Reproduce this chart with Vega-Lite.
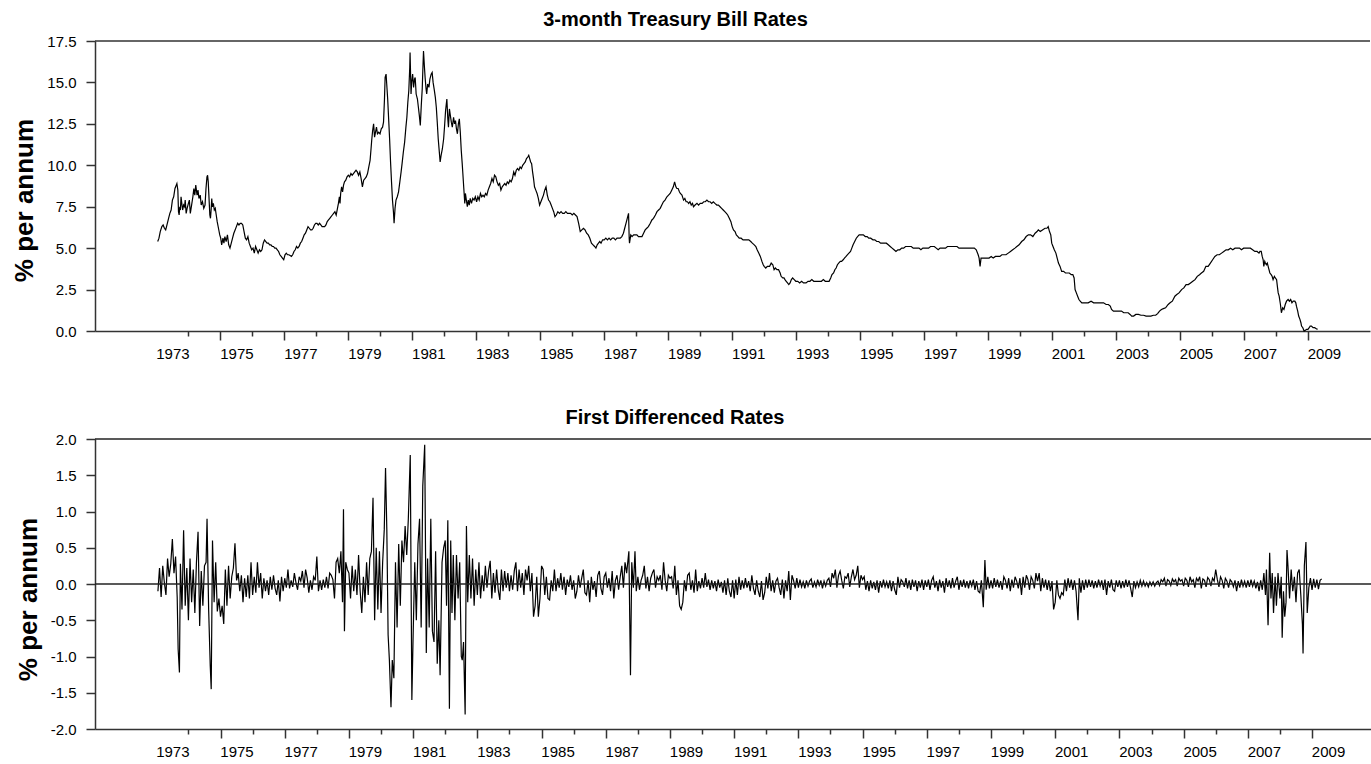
{
"$schema": "https://vega.github.io/schema/vega-lite/v6.json",
"background": "white",
"padding": {"left": 11, "top": 10, "right": 0, "bottom": 0},
"spacing": 47,
"align": "none",
"config": {
  "font": "Liberation Sans",
  "view": {"stroke": null},
  "locale": {"number": {"decimal": ".", "thousands": ",", "grouping": [3], "currency": ["$", ""], "minus": "-"}},
  "axis": {"grid": false, "domainColor": "#333", "domainWidth": 1.5, "tickColor": "#333", "tickWidth": 1.5, "labelFont": "Liberation Sans", "labelFontSize": 15, "labelColor": "black", "titleFont": "Liberation Sans", "titleColor": "black"}
},
"vconcat": [
{
  "width": 1275, "height": 290,
  "title": {"text": "3-month Treasury Bill Rates", "fontSize": 20, "fontWeight": "bold", "font": "Liberation Sans", "color": "black", "anchor": "middle", "frame": "group", "dx": -57, "offset": 4},
  "layer": [
    {
      "data": {"values": [
{"year":1973.04,"rate":5.4},{"year":1973.08,"rate":5.6},{"year":1973.12,"rate":6.0},{"year":1973.17,"rate":6.3},{"year":1973.21,"rate":6.4},{"year":1973.25,"rate":6.2},{"year":1973.29,"rate":6.1},{"year":1973.33,"rate":6.4},{"year":1973.38,"rate":6.8},{"year":1973.42,"rate":7.1},{"year":1973.46,"rate":7.3},{"year":1973.50,"rate":7.9},{"year":1973.54,"rate":8.1},{"year":1973.58,"rate":8.6},{"year":1973.62,"rate":8.8},{"year":1973.64,"rate":8.9},{"year":1973.67,"rate":8.5},{"year":1973.69,"rate":7.2},{"year":1973.71,"rate":7.0},{"year":1973.73,"rate":7.5},{"year":1973.75,"rate":7.3},{"year":1973.77,"rate":8.1},{"year":1973.80,"rate":7.6},{"year":1973.82,"rate":7.3},{"year":1973.85,"rate":7.6},{"year":1973.88,"rate":7.5},{"year":1973.90,"rate":7.9},{"year":1973.93,"rate":7.1},{"year":1973.96,"rate":7.4},
{"year":1974.00,"rate":7.7},{"year":1974.03,"rate":7.9},{"year":1974.06,"rate":7.1},{"year":1974.10,"rate":7.6},{"year":1974.14,"rate":8.1},{"year":1974.17,"rate":8.6},{"year":1974.20,"rate":8.2},{"year":1974.23,"rate":8.8},{"year":1974.27,"rate":8.2},{"year":1974.30,"rate":8.5},{"year":1974.33,"rate":8.0},{"year":1974.37,"rate":8.2},{"year":1974.40,"rate":7.6},{"year":1974.44,"rate":7.8},{"year":1974.48,"rate":7.4},{"year":1974.52,"rate":7.6},{"year":1974.55,"rate":8.6},{"year":1974.58,"rate":9.3},{"year":1974.60,"rate":9.4},{"year":1974.62,"rate":9.0},{"year":1974.64,"rate":8.2},{"year":1974.67,"rate":7.0},{"year":1974.69,"rate":6.8},{"year":1974.71,"rate":7.3},{"year":1974.73,"rate":8.0},{"year":1974.75,"rate":7.5},{"year":1974.78,"rate":7.7},{"year":1974.81,"rate":7.3},{"year":1974.84,"rate":7.4},{"year":1974.87,"rate":7.0},{"year":1974.90,"rate":6.6},{"year":1974.94,"rate":6.2},{"year":1974.98,"rate":5.8},
{"year":1975.01,"rate":5.6},{"year":1975.04,"rate":5.2},{"year":1975.08,"rate":5.6},{"year":1975.11,"rate":5.3},{"year":1975.14,"rate":5.7},{"year":1975.18,"rate":5.4},{"year":1975.22,"rate":5.8},{"year":1975.26,"rate":5.2},{"year":1975.30,"rate":5.0},{"year":1975.34,"rate":5.3},{"year":1975.38,"rate":5.6},{"year":1975.42,"rate":5.9},{"year":1975.46,"rate":6.1},{"year":1975.50,"rate":6.3},{"year":1975.54,"rate":6.5},{"year":1975.58,"rate":6.4},{"year":1975.62,"rate":6.5},{"year":1975.66,"rate":6.5},{"year":1975.70,"rate":6.4},{"year":1975.74,"rate":6.0},{"year":1975.78,"rate":5.6},{"year":1975.82,"rate":5.5},{"year":1975.86,"rate":5.7},{"year":1975.90,"rate":5.3},{"year":1975.94,"rate":5.1},{"year":1975.98,"rate":4.9},
{"year":1976.02,"rate":5.0},{"year":1976.06,"rate":4.7},{"year":1976.10,"rate":5.1},{"year":1976.14,"rate":4.9},{"year":1976.18,"rate":4.7},{"year":1976.22,"rate":4.9},{"year":1976.26,"rate":4.8},{"year":1976.30,"rate":4.9},{"year":1976.34,"rate":5.3},{"year":1976.38,"rate":5.5},{"year":1976.42,"rate":5.4},{"year":1976.46,"rate":5.3},{"year":1976.50,"rate":5.3},{"year":1976.54,"rate":5.2},{"year":1976.58,"rate":5.2},{"year":1976.62,"rate":5.1},{"year":1976.66,"rate":5.1},{"year":1976.70,"rate":5.0},{"year":1976.74,"rate":5.0},{"year":1976.78,"rate":4.9},{"year":1976.82,"rate":4.8},{"year":1976.86,"rate":4.6},{"year":1976.90,"rate":4.5},{"year":1976.94,"rate":4.4},{"year":1976.98,"rate":4.3},
{"year":1977.02,"rate":4.6},{"year":1977.06,"rate":4.7},{"year":1977.10,"rate":4.6},{"year":1977.14,"rate":4.6},{"year":1977.18,"rate":4.55},{"year":1977.22,"rate":4.5},{"year":1977.26,"rate":4.6},{"year":1977.30,"rate":4.8},{"year":1977.34,"rate":4.9},{"year":1977.38,"rate":5.1},{"year":1977.42,"rate":5.0},{"year":1977.46,"rate":5.1},{"year":1977.50,"rate":5.3},{"year":1977.54,"rate":5.4},{"year":1977.58,"rate":5.6},{"year":1977.62,"rate":5.8},{"year":1977.66,"rate":5.9},{"year":1977.70,"rate":6.1},{"year":1977.74,"rate":6.3},{"year":1977.78,"rate":6.2},{"year":1977.82,"rate":6.1},{"year":1977.86,"rate":6.1},{"year":1977.90,"rate":6.2},{"year":1977.94,"rate":6.4},{"year":1977.98,"rate":6.5},
{"year":1978.02,"rate":6.5},{"year":1978.06,"rate":6.4},{"year":1978.10,"rate":6.5},{"year":1978.14,"rate":6.4},{"year":1978.18,"rate":6.3},{"year":1978.22,"rate":6.3},{"year":1978.26,"rate":6.3},{"year":1978.30,"rate":6.4},{"year":1978.34,"rate":6.6},{"year":1978.38,"rate":6.7},{"year":1978.42,"rate":6.8},{"year":1978.46,"rate":6.9},{"year":1978.50,"rate":7.0},{"year":1978.54,"rate":7.1},{"year":1978.58,"rate":7.2},{"year":1978.62,"rate":7.0},{"year":1978.66,"rate":7.4},{"year":1978.69,"rate":7.7},{"year":1978.72,"rate":8.1},{"year":1978.74,"rate":7.7},{"year":1978.76,"rate":8.3},{"year":1978.79,"rate":8.7},{"year":1978.82,"rate":8.4},{"year":1978.85,"rate":8.8},{"year":1978.88,"rate":9.0},{"year":1978.92,"rate":9.1},{"year":1978.96,"rate":9.3},
{"year":1979.00,"rate":9.4},{"year":1979.04,"rate":9.3},{"year":1979.08,"rate":9.5},{"year":1979.12,"rate":9.4},{"year":1979.16,"rate":9.5},{"year":1979.20,"rate":9.6},{"year":1979.24,"rate":9.7},{"year":1979.28,"rate":9.6},{"year":1979.32,"rate":9.4},{"year":1979.36,"rate":9.6},{"year":1979.40,"rate":9.2},{"year":1979.44,"rate":8.7},{"year":1979.48,"rate":9.1},{"year":1979.52,"rate":9.2},{"year":1979.56,"rate":9.3},{"year":1979.60,"rate":9.5},{"year":1979.64,"rate":9.9},{"year":1979.68,"rate":10.3},{"year":1979.71,"rate":11.0},{"year":1979.73,"rate":11.5},{"year":1979.76,"rate":12.1},{"year":1979.79,"rate":12.5},{"year":1979.82,"rate":11.7},{"year":1979.85,"rate":12.0},{"year":1979.88,"rate":12.3},{"year":1979.91,"rate":11.9},{"year":1979.95,"rate":12.0},{"year":1979.99,"rate":11.9},
{"year":1980.03,"rate":12.2},{"year":1980.07,"rate":12.3},{"year":1980.10,"rate":12.6},{"year":1980.13,"rate":14.0},{"year":1980.15,"rate":15.3},{"year":1980.18,"rate":15.5},{"year":1980.20,"rate":14.9},{"year":1980.23,"rate":14.0},{"year":1980.26,"rate":12.8},{"year":1980.29,"rate":11.6},{"year":1980.32,"rate":10.2},{"year":1980.35,"rate":9.0},{"year":1980.38,"rate":7.9},{"year":1980.41,"rate":7.2},{"year":1980.43,"rate":6.5},{"year":1980.46,"rate":7.4},{"year":1980.49,"rate":7.9},{"year":1980.53,"rate":8.1},{"year":1980.57,"rate":8.4},{"year":1980.61,"rate":9.0},{"year":1980.65,"rate":9.6},{"year":1980.68,"rate":10.1},{"year":1980.72,"rate":10.8},{"year":1980.76,"rate":11.4},{"year":1980.80,"rate":12.3},{"year":1980.83,"rate":12.9},{"year":1980.86,"rate":13.8},{"year":1980.89,"rate":14.5},{"year":1980.92,"rate":15.9},{"year":1980.93,"rate":16.8},{"year":1980.96,"rate":14.3},{"year":1980.98,"rate":15.0},
{"year":1981.01,"rate":15.5},{"year":1981.04,"rate":14.7},{"year":1981.07,"rate":15.2},{"year":1981.09,"rate":15.3},{"year":1981.12,"rate":14.3},{"year":1981.16,"rate":14.0},{"year":1981.19,"rate":13.5},{"year":1981.22,"rate":13.0},{"year":1981.25,"rate":12.4},{"year":1981.28,"rate":13.6},{"year":1981.31,"rate":14.6},{"year":1981.33,"rate":15.8},{"year":1981.35,"rate":16.9},{"year":1981.38,"rate":15.9},{"year":1981.40,"rate":15.3},{"year":1981.43,"rate":14.6},{"year":1981.45,"rate":14.3},{"year":1981.48,"rate":14.9},{"year":1981.52,"rate":14.7},{"year":1981.55,"rate":15.2},{"year":1981.59,"rate":15.5},{"year":1981.62,"rate":15.6},{"year":1981.65,"rate":15.0},{"year":1981.69,"rate":14.5},{"year":1981.72,"rate":14.1},{"year":1981.75,"rate":13.5},{"year":1981.78,"rate":12.6},{"year":1981.81,"rate":11.6},{"year":1981.84,"rate":10.9},{"year":1981.87,"rate":10.2},{"year":1981.90,"rate":10.6},{"year":1981.94,"rate":11.0},{"year":1981.98,"rate":11.6},
{"year":1982.01,"rate":12.4},{"year":1982.04,"rate":13.3},{"year":1982.08,"rate":14.0},{"year":1982.11,"rate":12.8},{"year":1982.13,"rate":12.3},{"year":1982.16,"rate":13.4},{"year":1982.19,"rate":13.0},{"year":1982.22,"rate":12.6},{"year":1982.25,"rate":12.3},{"year":1982.29,"rate":12.9},{"year":1982.32,"rate":12.5},{"year":1982.35,"rate":12.7},{"year":1982.38,"rate":12.2},{"year":1982.41,"rate":11.9},{"year":1982.44,"rate":12.5},{"year":1982.47,"rate":12.8},{"year":1982.50,"rate":12.0},{"year":1982.53,"rate":10.9},{"year":1982.56,"rate":10.1},{"year":1982.58,"rate":9.5},{"year":1982.61,"rate":8.6},{"year":1982.64,"rate":7.7},{"year":1982.66,"rate":8.3},{"year":1982.69,"rate":7.9},{"year":1982.72,"rate":7.5},{"year":1982.75,"rate":7.9},{"year":1982.78,"rate":7.6},{"year":1982.81,"rate":8.0},{"year":1982.85,"rate":7.7},{"year":1982.89,"rate":8.0},{"year":1982.93,"rate":7.9},{"year":1982.97,"rate":8.1},
{"year":1983.01,"rate":7.8},{"year":1983.05,"rate":8.1},{"year":1983.09,"rate":7.9},{"year":1983.13,"rate":8.3},{"year":1983.17,"rate":8.1},{"year":1983.21,"rate":8.2},{"year":1983.25,"rate":8.1},{"year":1983.29,"rate":8.3},{"year":1983.33,"rate":8.2},{"year":1983.37,"rate":8.5},{"year":1983.41,"rate":8.7},{"year":1983.45,"rate":8.9},{"year":1983.49,"rate":9.2},{"year":1983.53,"rate":9.0},{"year":1983.57,"rate":9.4},{"year":1983.61,"rate":9.3},{"year":1983.65,"rate":9.0},{"year":1983.69,"rate":8.8},{"year":1983.73,"rate":8.9},{"year":1983.77,"rate":8.5},{"year":1983.81,"rate":8.7},{"year":1983.85,"rate":8.8},{"year":1983.89,"rate":8.9},{"year":1983.93,"rate":8.8},{"year":1983.97,"rate":9.0},
{"year":1984.01,"rate":8.9},{"year":1984.05,"rate":9.1},{"year":1984.09,"rate":9.0},{"year":1984.13,"rate":9.2},{"year":1984.17,"rate":9.6},{"year":1984.21,"rate":9.4},{"year":1984.25,"rate":9.7},{"year":1984.29,"rate":9.8},{"year":1984.33,"rate":9.7},{"year":1984.37,"rate":9.9},{"year":1984.41,"rate":9.8},{"year":1984.45,"rate":10.0},{"year":1984.49,"rate":10.1},{"year":1984.53,"rate":10.2},{"year":1984.57,"rate":10.4},{"year":1984.61,"rate":10.5},{"year":1984.64,"rate":10.6},{"year":1984.67,"rate":10.4},{"year":1984.70,"rate":10.2},{"year":1984.73,"rate":10.1},{"year":1984.76,"rate":9.6},{"year":1984.79,"rate":9.2},{"year":1984.82,"rate":8.7},{"year":1984.86,"rate":8.5},{"year":1984.90,"rate":8.3},{"year":1984.94,"rate":8.0},{"year":1984.98,"rate":7.6},
{"year":1985.02,"rate":7.8},{"year":1985.06,"rate":8.0},{"year":1985.10,"rate":8.2},{"year":1985.14,"rate":8.5},{"year":1985.18,"rate":8.7},{"year":1985.22,"rate":8.2},{"year":1985.26,"rate":7.9},{"year":1985.30,"rate":7.8},{"year":1985.34,"rate":7.6},{"year":1985.38,"rate":7.4},{"year":1985.42,"rate":7.2},{"year":1985.46,"rate":6.9},{"year":1985.50,"rate":7.0},{"year":1985.55,"rate":7.2},{"year":1985.60,"rate":7.1},{"year":1985.65,"rate":7.2},{"year":1985.70,"rate":7.1},{"year":1985.75,"rate":7.1},{"year":1985.80,"rate":7.2},{"year":1985.85,"rate":7.1},{"year":1985.90,"rate":7.1},{"year":1985.95,"rate":7.1},
{"year":1986.00,"rate":7.0},{"year":1986.05,"rate":7.1},{"year":1986.10,"rate":7.0},{"year":1986.15,"rate":6.9},{"year":1986.20,"rate":6.5},{"year":1986.25,"rate":6.0},{"year":1986.30,"rate":6.1},{"year":1986.35,"rate":6.2},{"year":1986.40,"rate":6.1},{"year":1986.45,"rate":5.9},{"year":1986.50,"rate":5.8},{"year":1986.55,"rate":5.6},{"year":1986.60,"rate":5.3},{"year":1986.65,"rate":5.2},{"year":1986.70,"rate":5.1},{"year":1986.74,"rate":5.0},{"year":1986.78,"rate":5.2},{"year":1986.82,"rate":5.3},{"year":1986.86,"rate":5.4},{"year":1986.90,"rate":5.3},{"year":1986.95,"rate":5.5},
{"year":1987.00,"rate":5.5},{"year":1987.05,"rate":5.6},{"year":1987.10,"rate":5.5},{"year":1987.15,"rate":5.6},{"year":1987.20,"rate":5.5},{"year":1987.25,"rate":5.6},{"year":1987.30,"rate":5.6},{"year":1987.35,"rate":5.5},{"year":1987.40,"rate":5.6},{"year":1987.45,"rate":5.6},{"year":1987.50,"rate":5.6},{"year":1987.55,"rate":5.7},{"year":1987.60,"rate":5.9},{"year":1987.64,"rate":6.2},{"year":1987.68,"rate":6.5},{"year":1987.72,"rate":6.8},{"year":1987.76,"rate":7.1},{"year":1987.78,"rate":5.6},{"year":1987.79,"rate":5.3},{"year":1987.83,"rate":5.8},{"year":1987.87,"rate":5.7},{"year":1987.92,"rate":5.8},{"year":1987.97,"rate":5.8},
{"year":1988.02,"rate":5.8},{"year":1988.07,"rate":5.7},{"year":1988.12,"rate":5.7},{"year":1988.18,"rate":5.7},{"year":1988.23,"rate":5.9},{"year":1988.28,"rate":6.1},{"year":1988.33,"rate":6.2},{"year":1988.38,"rate":6.3},{"year":1988.44,"rate":6.5},{"year":1988.49,"rate":6.7},{"year":1988.54,"rate":6.8},{"year":1988.60,"rate":7.0},{"year":1988.65,"rate":7.2},{"year":1988.70,"rate":7.3},{"year":1988.75,"rate":7.4},{"year":1988.80,"rate":7.6},{"year":1988.85,"rate":7.8},{"year":1988.90,"rate":7.9},{"year":1988.96,"rate":8.1},
{"year":1989.01,"rate":8.2},{"year":1989.06,"rate":8.3},{"year":1989.11,"rate":8.5},{"year":1989.16,"rate":8.7},{"year":1989.20,"rate":9.0},{"year":1989.24,"rate":8.7},{"year":1989.27,"rate":8.6},{"year":1989.31,"rate":8.6},{"year":1989.35,"rate":8.4},{"year":1989.38,"rate":8.3},{"year":1989.43,"rate":8.2},{"year":1989.48,"rate":7.9},{"year":1989.52,"rate":8.0},{"year":1989.56,"rate":7.8},{"year":1989.60,"rate":7.8},{"year":1989.64,"rate":7.7},{"year":1989.68,"rate":7.8},{"year":1989.72,"rate":7.6},{"year":1989.76,"rate":7.7},{"year":1989.79,"rate":7.5},{"year":1989.84,"rate":7.6},{"year":1989.90,"rate":7.7},{"year":1989.95,"rate":7.6},
{"year":1990.00,"rate":7.7},{"year":1990.06,"rate":7.7},{"year":1990.11,"rate":7.8},{"year":1990.16,"rate":7.8},{"year":1990.21,"rate":7.9},{"year":1990.26,"rate":7.8},{"year":1990.31,"rate":7.8},{"year":1990.36,"rate":7.7},{"year":1990.41,"rate":7.8},{"year":1990.46,"rate":7.7},{"year":1990.52,"rate":7.6},{"year":1990.57,"rate":7.6},{"year":1990.62,"rate":7.5},{"year":1990.67,"rate":7.4},{"year":1990.72,"rate":7.3},{"year":1990.77,"rate":7.2},{"year":1990.82,"rate":7.1},{"year":1990.86,"rate":7.0},{"year":1990.91,"rate":6.8},{"year":1990.96,"rate":6.6},
{"year":1991.00,"rate":6.3},{"year":1991.04,"rate":6.1},{"year":1991.09,"rate":6.0},{"year":1991.13,"rate":5.8},{"year":1991.18,"rate":5.7},{"year":1991.22,"rate":5.6},{"year":1991.28,"rate":5.6},{"year":1991.34,"rate":5.5},{"year":1991.40,"rate":5.5},{"year":1991.46,"rate":5.5},{"year":1991.52,"rate":5.5},{"year":1991.58,"rate":5.4},{"year":1991.63,"rate":5.3},{"year":1991.69,"rate":5.2},{"year":1991.74,"rate":5.1},{"year":1991.78,"rate":4.9},{"year":1991.83,"rate":4.7},{"year":1991.88,"rate":4.5},{"year":1991.93,"rate":4.2},{"year":1991.97,"rate":4.0},
{"year":1992.00,"rate":3.9},{"year":1992.05,"rate":3.8},{"year":1992.10,"rate":3.9},{"year":1992.17,"rate":3.9},{"year":1992.22,"rate":4.1},{"year":1992.27,"rate":4.0},{"year":1992.31,"rate":3.7},{"year":1992.35,"rate":3.8},{"year":1992.40,"rate":3.7},{"year":1992.45,"rate":3.7},{"year":1992.50,"rate":3.5},{"year":1992.53,"rate":3.3},{"year":1992.58,"rate":3.2},{"year":1992.62,"rate":3.2},{"year":1992.65,"rate":3.1},{"year":1992.69,"rate":3.0},{"year":1992.73,"rate":2.9},{"year":1992.77,"rate":2.8},{"year":1992.81,"rate":2.9},{"year":1992.85,"rate":3.1},{"year":1992.89,"rate":3.2},{"year":1992.94,"rate":3.1},{"year":1992.99,"rate":3.0},
{"year":1993.05,"rate":3.0},{"year":1993.11,"rate":2.9},{"year":1993.17,"rate":3.0},{"year":1993.23,"rate":2.9},{"year":1993.31,"rate":2.9},{"year":1993.37,"rate":3.0},{"year":1993.43,"rate":3.0},{"year":1993.49,"rate":3.1},{"year":1993.55,"rate":3.0},{"year":1993.61,"rate":3.0},{"year":1993.67,"rate":3.0},{"year":1993.73,"rate":3.0},{"year":1993.79,"rate":3.0},{"year":1993.85,"rate":3.1},{"year":1993.91,"rate":3.0},{"year":1993.97,"rate":3.0},
{"year":1994.03,"rate":3.0},{"year":1994.08,"rate":3.2},{"year":1994.12,"rate":3.4},{"year":1994.17,"rate":3.5},{"year":1994.21,"rate":3.7},{"year":1994.25,"rate":3.8},{"year":1994.29,"rate":4.0},{"year":1994.33,"rate":4.1},{"year":1994.38,"rate":4.2},{"year":1994.42,"rate":4.2},{"year":1994.47,"rate":4.3},{"year":1994.51,"rate":4.4},{"year":1994.56,"rate":4.5},{"year":1994.60,"rate":4.6},{"year":1994.65,"rate":4.7},{"year":1994.70,"rate":4.8},{"year":1994.74,"rate":5.0},{"year":1994.78,"rate":5.2},{"year":1994.83,"rate":5.4},{"year":1994.88,"rate":5.6},{"year":1994.92,"rate":5.7},{"year":1994.97,"rate":5.8},
{"year":1995.04,"rate":5.8},{"year":1995.10,"rate":5.8},{"year":1995.16,"rate":5.7},{"year":1995.22,"rate":5.7},{"year":1995.27,"rate":5.6},{"year":1995.33,"rate":5.6},{"year":1995.40,"rate":5.5},{"year":1995.46,"rate":5.5},{"year":1995.52,"rate":5.4},{"year":1995.58,"rate":5.4},{"year":1995.64,"rate":5.3},{"year":1995.70,"rate":5.3},{"year":1995.76,"rate":5.3},{"year":1995.82,"rate":5.3},{"year":1995.88,"rate":5.2},{"year":1995.94,"rate":5.1},
{"year":1996.00,"rate":5.0},{"year":1996.06,"rate":4.9},{"year":1996.12,"rate":4.8},{"year":1996.18,"rate":4.9},{"year":1996.24,"rate":4.9},{"year":1996.30,"rate":5.0},{"year":1996.36,"rate":5.0},{"year":1996.42,"rate":5.1},{"year":1996.48,"rate":5.1},{"year":1996.54,"rate":5.1},{"year":1996.60,"rate":5.1},{"year":1996.66,"rate":5.0},{"year":1996.72,"rate":5.0},{"year":1996.78,"rate":5.0},{"year":1996.84,"rate":5.0},{"year":1996.90,"rate":4.9},{"year":1996.96,"rate":5.0},
{"year":1997.02,"rate":5.0},{"year":1997.08,"rate":5.0},{"year":1997.14,"rate":5.0},{"year":1997.20,"rate":5.1},{"year":1997.26,"rate":5.1},{"year":1997.32,"rate":5.1},{"year":1997.38,"rate":5.0},{"year":1997.44,"rate":4.9},{"year":1997.50,"rate":5.0},{"year":1997.55,"rate":5.0},{"year":1997.61,"rate":5.0},{"year":1997.67,"rate":5.0},{"year":1997.73,"rate":5.1},{"year":1997.80,"rate":5.1},{"year":1997.86,"rate":5.1},{"year":1997.92,"rate":5.1},{"year":1997.98,"rate":5.1},
{"year":1998.03,"rate":5.1},{"year":1998.09,"rate":5.0},{"year":1998.15,"rate":5.0},{"year":1998.21,"rate":5.0},{"year":1998.27,"rate":5.0},{"year":1998.33,"rate":5.0},{"year":1998.39,"rate":5.0},{"year":1998.45,"rate":5.0},{"year":1998.51,"rate":5.0},{"year":1998.57,"rate":5.0},{"year":1998.63,"rate":4.9},{"year":1998.69,"rate":4.6},{"year":1998.72,"rate":4.4},{"year":1998.75,"rate":3.9},{"year":1998.78,"rate":4.4},{"year":1998.83,"rate":4.4},{"year":1998.90,"rate":4.4},{"year":1998.96,"rate":4.4},
{"year":1999.03,"rate":4.4},{"year":1999.10,"rate":4.5},{"year":1999.16,"rate":4.4},{"year":1999.23,"rate":4.5},{"year":1999.30,"rate":4.5},{"year":1999.37,"rate":4.5},{"year":1999.43,"rate":4.6},{"year":1999.50,"rate":4.6},{"year":1999.56,"rate":4.6},{"year":1999.63,"rate":4.7},{"year":1999.70,"rate":4.8},{"year":1999.77,"rate":4.9},{"year":1999.84,"rate":5.0},{"year":1999.90,"rate":5.1},{"year":1999.97,"rate":5.2},
{"year":2000.05,"rate":5.4},{"year":2000.12,"rate":5.5},{"year":2000.19,"rate":5.7},{"year":2000.26,"rate":5.8},{"year":2000.33,"rate":5.8},{"year":2000.40,"rate":5.7},{"year":2000.47,"rate":5.9},{"year":2000.53,"rate":6.0},{"year":2000.57,"rate":6.1},{"year":2000.63,"rate":6.0},{"year":2000.70,"rate":6.1},{"year":2000.78,"rate":6.2},{"year":2000.84,"rate":6.2},{"year":2000.88,"rate":6.3},{"year":2000.92,"rate":6.0},{"year":2000.96,"rate":5.8},{"year":2000.99,"rate":5.3},
{"year":2001.03,"rate":5.1},{"year":2001.07,"rate":4.9},{"year":2001.12,"rate":4.7},{"year":2001.16,"rate":4.4},{"year":2001.20,"rate":4.1},{"year":2001.25,"rate":3.9},{"year":2001.30,"rate":3.6},{"year":2001.36,"rate":3.6},{"year":2001.42,"rate":3.5},{"year":2001.48,"rate":3.5},{"year":2001.54,"rate":3.5},{"year":2001.60,"rate":3.4},{"year":2001.65,"rate":3.4},{"year":2001.69,"rate":3.2},{"year":2001.72,"rate":2.5},{"year":2001.76,"rate":2.3},{"year":2001.80,"rate":2.1},{"year":2001.84,"rate":1.9},{"year":2001.88,"rate":1.8},{"year":2001.93,"rate":1.7},{"year":2001.98,"rate":1.7},
{"year":2002.05,"rate":1.7},{"year":2002.13,"rate":1.7},{"year":2002.22,"rate":1.8},{"year":2002.30,"rate":1.7},{"year":2002.38,"rate":1.7},{"year":2002.45,"rate":1.7},{"year":2002.53,"rate":1.7},{"year":2002.61,"rate":1.7},{"year":2002.69,"rate":1.6},{"year":2002.76,"rate":1.6},{"year":2002.82,"rate":1.5},{"year":2002.86,"rate":1.3},{"year":2002.92,"rate":1.2},{"year":2002.98,"rate":1.2},
{"year":2003.05,"rate":1.2},{"year":2003.12,"rate":1.2},{"year":2003.17,"rate":1.2},{"year":2003.24,"rate":1.1},{"year":2003.31,"rate":1.1},{"year":2003.38,"rate":1.1},{"year":2003.44,"rate":1.0},{"year":2003.49,"rate":0.9},{"year":2003.55,"rate":0.9},{"year":2003.62,"rate":1.0},{"year":2003.70,"rate":1.0},{"year":2003.78,"rate":0.95},{"year":2003.86,"rate":0.95},{"year":2003.94,"rate":0.9},
{"year":2004.01,"rate":0.9},{"year":2004.09,"rate":0.9},{"year":2004.17,"rate":0.95},{"year":2004.24,"rate":0.95},{"year":2004.30,"rate":1.05},{"year":2004.36,"rate":1.2},{"year":2004.42,"rate":1.3},{"year":2004.48,"rate":1.35},{"year":2004.55,"rate":1.4},{"year":2004.63,"rate":1.6},{"year":2004.69,"rate":1.7},{"year":2004.76,"rate":1.8},{"year":2004.84,"rate":2.1},{"year":2004.90,"rate":2.2},{"year":2004.97,"rate":2.3},
{"year":2005.05,"rate":2.5},{"year":2005.12,"rate":2.6},{"year":2005.19,"rate":2.8},{"year":2005.26,"rate":2.8},{"year":2005.33,"rate":2.9},{"year":2005.40,"rate":3.0},{"year":2005.47,"rate":3.1},{"year":2005.54,"rate":3.3},{"year":2005.61,"rate":3.4},{"year":2005.67,"rate":3.5},{"year":2005.74,"rate":3.6},{"year":2005.81,"rate":3.9},{"year":2005.88,"rate":3.9},{"year":2005.95,"rate":4.1},
{"year":2006.02,"rate":4.3},{"year":2006.09,"rate":4.5},{"year":2006.16,"rate":4.6},{"year":2006.23,"rate":4.6},{"year":2006.30,"rate":4.7},{"year":2006.37,"rate":4.8},{"year":2006.44,"rate":4.9},{"year":2006.51,"rate":4.9},{"year":2006.58,"rate":5.0},{"year":2006.65,"rate":4.9},{"year":2006.72,"rate":5.0},{"year":2006.79,"rate":5.0},{"year":2006.86,"rate":5.0},{"year":2006.92,"rate":4.9},{"year":2006.99,"rate":5.0},
{"year":2007.06,"rate":5.0},{"year":2007.13,"rate":5.0},{"year":2007.20,"rate":5.0},{"year":2007.27,"rate":4.9},{"year":2007.34,"rate":4.8},{"year":2007.41,"rate":4.8},{"year":2007.47,"rate":4.7},{"year":2007.50,"rate":4.8},{"year":2007.54,"rate":4.8},{"year":2007.57,"rate":4.5},{"year":2007.60,"rate":4.3},{"year":2007.62,"rate":3.9},{"year":2007.65,"rate":4.2},{"year":2007.67,"rate":4.1},{"year":2007.70,"rate":4.0},{"year":2007.73,"rate":4.1},{"year":2007.77,"rate":3.8},{"year":2007.81,"rate":3.5},{"year":2007.85,"rate":3.4},{"year":2007.88,"rate":3.3},{"year":2007.91,"rate":3.1},{"year":2007.95,"rate":3.3},{"year":2007.98,"rate":3.2},
{"year":2008.02,"rate":3.1},{"year":2008.05,"rate":2.6},{"year":2008.07,"rate":2.3},{"year":2008.10,"rate":2.1},{"year":2008.14,"rate":1.6},{"year":2008.17,"rate":1.1},{"year":2008.21,"rate":1.4},{"year":2008.25,"rate":1.3},{"year":2008.29,"rate":1.6},{"year":2008.33,"rate":1.8},{"year":2008.38,"rate":1.9},{"year":2008.42,"rate":1.8},{"year":2008.46,"rate":1.9},{"year":2008.50,"rate":1.7},{"year":2008.54,"rate":1.8},{"year":2008.59,"rate":1.8},{"year":2008.62,"rate":1.7},{"year":2008.64,"rate":1.5},{"year":2008.68,"rate":1.2},{"year":2008.71,"rate":0.9},{"year":2008.75,"rate":0.7},{"year":2008.78,"rate":0.5},{"year":2008.80,"rate":0.3},{"year":2008.84,"rate":0.2},{"year":2008.88,"rate":0.0},{"year":2008.92,"rate":0.05},{"year":2008.96,"rate":0.1},
{"year":2009.00,"rate":0.1},{"year":2009.04,"rate":0.2},{"year":2009.07,"rate":0.3},{"year":2009.11,"rate":0.3},{"year":2009.16,"rate":0.2},{"year":2009.21,"rate":0.2},{"year":2009.25,"rate":0.15},{"year":2009.30,"rate":0.1}
      ]},
      "mark": {"type": "line", "color": "black", "strokeWidth": 1.2},
      "encoding": {
        "x": {"field": "year", "type": "quantitative", "scale": {"domain": [1971.08, 2010.94], "nice": false, "zero": false},
          "axis": {"values": [1973,1974,1975,1976,1977,1978,1979,1980,1981,1982,1983,1984,1985,1986,1987,1988,1989,1990,1991,1992,1993,1994,1995,1996,1997,1998,1999,2000,2001,2002,2003,2004,2005,2006,2007,2008,2009],
            "tickCount": 60,
            "format": "d", "labelExpr": "datum.value % 2 == 1 ? datum.label : ''", "labelOffset": 16, "labelAlign": "center", "labelFlush": false, "labelOverlap": false, "labelPadding": 6,
            "tickSize": {"condition": {"test": "datum.value % 2 == 1", "value": 9}, "value": 5},
            "tickOpacity": {"condition": {"test": "datum.value < 1973.5", "value": 0}, "value": 1},
            "title": null}},
        "y": {"field": "rate", "type": "quantitative", "scale": {"domain": [0, 17.5], "nice": false}, "title": "% per annum",
          "axis": {"values": [0, 2.5, 5, 7.5, 10, 12.5, 15, 17.5], "tickCount": 20, "format": ".1f", "tickSize": 9, "labelPadding": 10, "labelOverlap": false, "titleFontSize": 26, "titleFontWeight": "bold", "titlePadding": 9, "titleY": 159}}
      }
    },
    {
      "data": {"values": [{"level": 17.5}]},
      "mark": {"type": "rule", "color": "#333", "strokeWidth": 1.5},
      "encoding": {"y": {"field": "level", "type": "quantitative", "title": "% per annum"}}
    }
  ]
},
{
  "width": 1279, "height": 290,
  "title": {"text": "First Differenced Rates", "fontSize": 20, "fontWeight": "bold", "font": "Liberation Sans", "color": "black", "anchor": "middle", "frame": "group", "dx": -59.5, "offset": 4},
  "layer": [
    {
      "data": {"values": [
{"year":1973.05,"change":-0.10},{"year":1973.10,"change":0.22},{"year":1973.15,"change":-0.18},{"year":1973.20,"change":0.25},{"year":1973.25,"change":0.02},{"year":1973.30,"change":-0.15},{"year":1973.35,"change":0.35},{"year":1973.40,"change":0.10},{"year":1973.45,"change":0.28},{"year":1973.50,"change":0.62},{"year":1973.55,"change":0.15},{"year":1973.60,"change":0.38},{"year":1973.65,"change":-0.18},{"year":1973.68,"change":-0.90},{"year":1973.72,"change":-1.22},{"year":1973.75,"change":0.28},{"year":1973.80,"change":-0.35},{"year":1973.85,"change":0.74},{"year":1973.90,"change":-0.30},{"year":1973.95,"change":0.22},
{"year":1974.00,"change":-0.50},{"year":1974.05,"change":0.35},{"year":1974.10,"change":-0.25},{"year":1974.15,"change":0.20},{"year":1974.20,"change":-0.40},{"year":1974.25,"change":0.30},{"year":1974.30,"change":0.72},{"year":1974.35,"change":-0.58},{"year":1974.40,"change":0.18},{"year":1974.45,"change":-0.30},{"year":1974.50,"change":0.25},{"year":1974.55,"change":0.30},{"year":1974.58,"change":0.90},{"year":1974.63,"change":-0.35},{"year":1974.68,"change":-1.13},{"year":1974.71,"change":-1.45},{"year":1974.75,"change":0.60},{"year":1974.80,"change":-0.25},{"year":1974.85,"change":0.30},{"year":1974.90,"change":-0.38},{"year":1974.95,"change":-0.20},
{"year":1975.00,"change":-0.45},{"year":1975.05,"change":-0.30},{"year":1975.10,"change":-0.55},{"year":1975.15,"change":0.20},{"year":1975.20,"change":-0.30},{"year":1975.25,"change":0.25},{"year":1975.30,"change":-0.20},{"year":1975.35,"change":0.10},{"year":1975.40,"change":0.22},{"year":1975.45,"change":0.56},{"year":1975.50,"change":0.05},{"year":1975.55,"change":0.15},{"year":1975.60,"change":-0.10},{"year":1975.65,"change":0.12},{"year":1975.70,"change":-0.25},{"year":1975.75,"change":0.08},{"year":1975.80,"change":-0.18},{"year":1975.85,"change":0.12},{"year":1975.90,"change":-0.20},{"year":1975.95,"change":0.30},
{"year":1976.00,"change":-0.15},{"year":1976.05,"change":0.10},{"year":1976.10,"change":-0.12},{"year":1976.15,"change":0.30},{"year":1976.20,"change":-0.05},{"year":1976.25,"change":0.15},{"year":1976.30,"change":-0.20},{"year":1976.35,"change":0.08},{"year":1976.40,"change":-0.10},{"year":1976.45,"change":0.05},{"year":1976.50,"change":-0.15},{"year":1976.55,"change":0.10},{"year":1976.60,"change":-0.08},{"year":1976.65,"change":0.12},{"year":1976.70,"change":-0.06},{"year":1976.75,"change":-0.15},{"year":1976.80,"change":0.05},{"year":1976.85,"change":-0.24},{"year":1976.90,"change":0.10},{"year":1976.95,"change":-0.10},
{"year":1977.00,"change":0.08},{"year":1977.05,"change":-0.05},{"year":1977.10,"change":0.20},{"year":1977.15,"change":-0.06},{"year":1977.20,"change":0.05},{"year":1977.25,"change":-0.04},{"year":1977.30,"change":0.15},{"year":1977.35,"change":0.02},{"year":1977.40,"change":-0.08},{"year":1977.45,"change":0.10},{"year":1977.50,"change":0.04},{"year":1977.55,"change":0.18},{"year":1977.60,"change":-0.05},{"year":1977.65,"change":0.20},{"year":1977.70,"change":0.08},{"year":1977.75,"change":-0.12},{"year":1977.80,"change":0.05},{"year":1977.85,"change":-0.08},{"year":1977.90,"change":0.10},{"year":1977.95,"change":0.05},
{"year":1978.00,"change":0.38},{"year":1978.05,"change":-0.10},{"year":1978.10,"change":0.05},{"year":1978.15,"change":-0.08},{"year":1978.20,"change":0.06},{"year":1978.25,"change":-0.05},{"year":1978.30,"change":0.10},{"year":1978.35,"change":-0.06},{"year":1978.40,"change":0.15},{"year":1978.45,"change":0.12},{"year":1978.50,"change":0.06},{"year":1978.55,"change":-0.20},{"year":1978.60,"change":0.30},{"year":1978.65,"change":0.35},{"year":1978.70,"change":0.15},{"year":1978.75,"change":0.45},{"year":1978.80,"change":-0.25},{"year":1978.83,"change":1.03},{"year":1978.86,"change":-0.65},{"year":1978.90,"change":0.30},{"year":1978.95,"change":0.20},
{"year":1979.00,"change":0.15},{"year":1979.05,"change":-0.20},{"year":1979.10,"change":0.25},{"year":1979.15,"change":-0.10},{"year":1979.20,"change":0.20},{"year":1979.25,"change":-0.15},{"year":1979.30,"change":0.40},{"year":1979.35,"change":-0.10},{"year":1979.40,"change":-0.40},{"year":1979.45,"change":0.10},{"year":1979.50,"change":-0.25},{"year":1979.55,"change":0.30},{"year":1979.60,"change":-0.15},{"year":1979.65,"change":0.35},{"year":1979.70,"change":0.45},{"year":1979.75,"change":1.19},{"year":1979.80,"change":-0.50},{"year":1979.85,"change":0.50},{"year":1979.90,"change":-0.35},{"year":1979.95,"change":0.45},
{"year":1980.00,"change":-0.40},{"year":1980.05,"change":0.30},{"year":1980.10,"change":0.75},{"year":1980.14,"change":1.60},{"year":1980.18,"change":0.75},{"year":1980.22,"change":-0.70},{"year":1980.26,"change":-1.05},{"year":1980.31,"change":-1.70},{"year":1980.35,"change":-1.05},{"year":1980.40,"change":-1.30},{"year":1980.45,"change":0.30},{"year":1980.50,"change":-0.60},{"year":1980.55,"change":0.55},{"year":1980.60,"change":-0.30},{"year":1980.65,"change":0.60},{"year":1980.70,"change":0.30},{"year":1980.75,"change":0.80},{"year":1980.80,"change":0.40},{"year":1980.85,"change":0.90},{"year":1980.91,"change":1.78},{"year":1980.96,"change":-1.60},
{"year":1981.00,"change":-0.70},{"year":1981.05,"change":0.30},{"year":1981.10,"change":-0.50},{"year":1981.15,"change":0.55},{"year":1981.20,"change":0.90},{"year":1981.25,"change":-0.60},{"year":1981.30,"change":1.35},{"year":1981.36,"change":1.92},{"year":1981.41,"change":-0.95},{"year":1981.45,"change":0.35},{"year":1981.50,"change":-0.60},{"year":1981.55,"change":0.90},{"year":1981.60,"change":-0.65},{"year":1981.65,"change":-0.80},{"year":1981.70,"change":0.45},{"year":1981.75,"change":-1.10},{"year":1981.80,"change":-0.50},{"year":1981.84,"change":-1.26},{"year":1981.90,"change":0.30},{"year":1981.95,"change":0.50},
{"year":1982.00,"change":0.60},{"year":1982.04,"change":-0.30},{"year":1982.08,"change":0.88},{"year":1982.13,"change":-1.72},{"year":1982.17,"change":0.60},{"year":1982.21,"change":-0.40},{"year":1982.25,"change":0.40},{"year":1982.30,"change":-0.50},{"year":1982.35,"change":0.40},{"year":1982.40,"change":-0.20},{"year":1982.45,"change":0.30},{"year":1982.50,"change":-1.00},{"year":1982.53,"change":-1.05},{"year":1982.57,"change":-0.80},{"year":1982.62,"change":-1.80},{"year":1982.66,"change":0.80},{"year":1982.70,"change":-0.25},{"year":1982.75,"change":0.40},{"year":1982.80,"change":-0.20},{"year":1982.85,"change":0.35},{"year":1982.90,"change":-0.30},{"year":1982.95,"change":0.20},
{"year":1983.00,"change":-0.15},{"year":1983.05,"change":0.30},{"year":1983.10,"change":-0.20},{"year":1983.15,"change":0.12},{"year":1983.20,"change":-0.10},{"year":1983.25,"change":0.25},{"year":1983.30,"change":-0.05},{"year":1983.35,"change":0.18},{"year":1983.40,"change":0.32},{"year":1983.45,"change":-0.20},{"year":1983.50,"change":0.15},{"year":1983.55,"change":-0.12},{"year":1983.60,"change":0.20},{"year":1983.65,"change":-0.08},{"year":1983.70,"change":-0.22},{"year":1983.75,"change":0.20},{"year":1983.80,"change":-0.10},{"year":1983.85,"change":0.18},{"year":1983.90,"change":-0.05},{"year":1983.95,"change":0.15},
{"year":1984.00,"change":-0.10},{"year":1984.05,"change":0.12},{"year":1984.10,"change":-0.08},{"year":1984.15,"change":0.18},{"year":1984.20,"change":0.30},{"year":1984.25,"change":-0.10},{"year":1984.30,"change":0.20},{"year":1984.35,"change":-0.05},{"year":1984.40,"change":0.15},{"year":1984.45,"change":-0.15},{"year":1984.50,"change":0.20},{"year":1984.55,"change":0.05},{"year":1984.60,"change":0.25},{"year":1984.65,"change":-0.10},{"year":1984.70,"change":0.15},{"year":1984.75,"change":-0.45},{"year":1984.80,"change":-0.30},{"year":1984.85,"change":0.10},{"year":1984.90,"change":-0.45},{"year":1984.95,"change":-0.20},
{"year":1985.00,"change":0.25},{"year":1985.05,"change":0.20},{"year":1985.10,"change":-0.15},{"year":1985.15,"change":0.10},{"year":1985.20,"change":-0.20},{"year":1985.25,"change":-0.22},{"year":1985.30,"change":0.05},{"year":1985.35,"change":-0.10},{"year":1985.40,"change":0.20},{"year":1985.45,"change":-0.10},{"year":1985.50,"change":0.08},{"year":1985.55,"change":-0.05},{"year":1985.60,"change":0.15},{"year":1985.65,"change":-0.08},{"year":1985.70,"change":0.10},{"year":1985.75,"change":-0.15},{"year":1985.80,"change":0.06},{"year":1985.85,"change":-0.04},{"year":1985.90,"change":0.12},{"year":1985.95,"change":-0.08},
{"year":1986.00,"change":0.05},{"year":1986.05,"change":-0.20},{"year":1986.10,"change":-0.10},{"year":1986.15,"change":0.12},{"year":1986.20,"change":-0.05},{"year":1986.25,"change":0.08},{"year":1986.30,"change":0.20},{"year":1986.35,"change":-0.12},{"year":1986.40,"change":-0.15},{"year":1986.45,"change":0.05},{"year":1986.50,"change":-0.25},{"year":1986.55,"change":0.10},{"year":1986.60,"change":-0.08},{"year":1986.65,"change":0.04},{"year":1986.70,"change":-0.18},{"year":1986.75,"change":0.12},{"year":1986.80,"change":0.18},{"year":1986.85,"change":-0.06},{"year":1986.90,"change":-0.15},{"year":1986.95,"change":0.10},
{"year":1987.00,"change":0.15},{"year":1987.05,"change":-0.05},{"year":1987.10,"change":0.08},{"year":1987.15,"change":-0.10},{"year":1987.20,"change":0.18},{"year":1987.25,"change":-0.20},{"year":1987.30,"change":0.05},{"year":1987.35,"change":0.12},{"year":1987.40,"change":-0.08},{"year":1987.45,"change":0.10},{"year":1987.50,"change":0.25},{"year":1987.55,"change":-0.05},{"year":1987.60,"change":0.30},{"year":1987.65,"change":0.15},{"year":1987.72,"change":0.45},{"year":1987.77,"change":-1.26},{"year":1987.81,"change":0.30},{"year":1987.86,"change":-0.05},{"year":1987.91,"change":0.45},{"year":1987.95,"change":-0.10},
{"year":1988.00,"change":0.10},{"year":1988.05,"change":-0.08},{"year":1988.10,"change":0.05},{"year":1988.15,"change":0.12},{"year":1988.20,"change":0.25},{"year":1988.25,"change":-0.06},{"year":1988.30,"change":0.10},{"year":1988.35,"change":-0.10},{"year":1988.40,"change":0.08},{"year":1988.45,"change":0.15},{"year":1988.50,"change":0.20},{"year":1988.55,"change":-0.05},{"year":1988.60,"change":0.10},{"year":1988.65,"change":0.05},{"year":1988.70,"change":0.12},{"year":1988.75,"change":-0.08},{"year":1988.80,"change":0.30},{"year":1988.85,"change":0.05},{"year":1988.90,"change":-0.10},{"year":1988.95,"change":0.12},
{"year":1989.00,"change":0.08},{"year":1989.05,"change":0.10},{"year":1989.10,"change":-0.06},{"year":1989.15,"change":0.25},{"year":1989.20,"change":-0.15},{"year":1989.25,"change":0.05},{"year":1989.30,"change":-0.30},{"year":1989.35,"change":-0.35},{"year":1989.40,"change":-0.25},{"year":1989.45,"change":0.05},{"year":1989.50,"change":-0.10},{"year":1989.55,"change":0.12},{"year":1989.60,"change":0.15},{"year":1989.65,"change":-0.08},{"year":1989.70,"change":0.05},{"year":1989.75,"change":-0.12},{"year":1989.80,"change":0.20},{"year":1989.85,"change":-0.10},{"year":1989.90,"change":0.04},{"year":1989.95,"change":-0.06},
{"year":1990.00,"change":0.08},{"year":1990.05,"change":-0.05},{"year":1990.10,"change":0.15},{"year":1990.15,"change":-0.04},{"year":1990.20,"change":0.06},{"year":1990.25,"change":-0.08},{"year":1990.30,"change":0.05},{"year":1990.35,"change":-0.06},{"year":1990.40,"change":0.04},{"year":1990.45,"change":-0.10},{"year":1990.50,"change":0.06},{"year":1990.55,"change":-0.05},{"year":1990.60,"change":0.03},{"year":1990.65,"change":-0.12},{"year":1990.70,"change":0.05},{"year":1990.75,"change":-0.15},{"year":1990.80,"change":0.08},{"year":1990.85,"change":-0.10},{"year":1990.90,"change":-0.18},{"year":1990.95,"change":0.05},
{"year":1991.00,"change":-0.20},{"year":1991.05,"change":0.06},{"year":1991.10,"change":-0.15},{"year":1991.15,"change":0.10},{"year":1991.20,"change":-0.08},{"year":1991.25,"change":0.05},{"year":1991.30,"change":-0.06},{"year":1991.35,"change":0.08},{"year":1991.40,"change":-0.05},{"year":1991.45,"change":0.04},{"year":1991.50,"change":-0.10},{"year":1991.55,"change":0.12},{"year":1991.60,"change":-0.06},{"year":1991.65,"change":-0.15},{"year":1991.70,"change":0.05},{"year":1991.75,"change":-0.10},{"year":1991.80,"change":-0.18},{"year":1991.85,"change":0.04},{"year":1991.90,"change":-0.22},{"year":1991.95,"change":-0.12},
{"year":1992.00,"change":0.10},{"year":1992.05,"change":-0.06},{"year":1992.10,"change":0.15},{"year":1992.15,"change":-0.10},{"year":1992.20,"change":0.05},{"year":1992.25,"change":-0.12},{"year":1992.30,"change":0.04},{"year":1992.35,"change":0.08},{"year":1992.40,"change":-0.05},{"year":1992.45,"change":-0.15},{"year":1992.50,"change":0.06},{"year":1992.55,"change":-0.20},{"year":1992.60,"change":0.05},{"year":1992.65,"change":-0.10},{"year":1992.70,"change":0.18},{"year":1992.75,"change":-0.22},{"year":1992.80,"change":0.12},{"year":1992.85,"change":0.05},{"year":1992.90,"change":-0.06},{"year":1992.95,"change":0.08},
{"year":1993.00,"change":-0.05},{"year":1993.05,"change":0.06},{"year":1993.10,"change":-0.04},{"year":1993.15,"change":0.03},{"year":1993.20,"change":-0.06},{"year":1993.25,"change":0.05},{"year":1993.30,"change":-0.03},{"year":1993.35,"change":0.04},{"year":1993.40,"change":0.07},{"year":1993.45,"change":-0.05},{"year":1993.50,"change":0.03},{"year":1993.55,"change":-0.04},{"year":1993.60,"change":0.06},{"year":1993.65,"change":-0.02},{"year":1993.70,"change":0.05},{"year":1993.75,"change":-0.06},{"year":1993.80,"change":0.04},{"year":1993.85,"change":-0.03},{"year":1993.90,"change":0.05},{"year":1993.95,"change":0.08},
{"year":1994.00,"change":-0.04},{"year":1994.05,"change":0.15},{"year":1994.10,"change":0.08},{"year":1994.15,"change":0.20},{"year":1994.20,"change":-0.05},{"year":1994.25,"change":0.12},{"year":1994.30,"change":0.18},{"year":1994.35,"change":0.05},{"year":1994.40,"change":-0.06},{"year":1994.45,"change":0.10},{"year":1994.50,"change":0.08},{"year":1994.55,"change":0.15},{"year":1994.60,"change":-0.04},{"year":1994.65,"change":0.10},{"year":1994.70,"change":0.20},{"year":1994.75,"change":0.06},{"year":1994.80,"change":0.12},{"year":1994.85,"change":0.25},{"year":1994.90,"change":-0.05},{"year":1994.95,"change":0.12},
{"year":1995.00,"change":0.06},{"year":1995.05,"change":0.10},{"year":1995.10,"change":-0.08},{"year":1995.15,"change":0.04},{"year":1995.20,"change":-0.10},{"year":1995.25,"change":0.05},{"year":1995.30,"change":-0.06},{"year":1995.35,"change":0.03},{"year":1995.40,"change":-0.08},{"year":1995.45,"change":0.05},{"year":1995.50,"change":-0.12},{"year":1995.55,"change":0.04},{"year":1995.60,"change":-0.05},{"year":1995.65,"change":0.06},{"year":1995.70,"change":-0.04},{"year":1995.75,"change":0.03},{"year":1995.80,"change":-0.06},{"year":1995.85,"change":0.05},{"year":1995.90,"change":-0.10},{"year":1995.95,"change":0.04},
{"year":1996.00,"change":-0.08},{"year":1996.05,"change":-0.15},{"year":1996.10,"change":0.10},{"year":1996.15,"change":-0.05},{"year":1996.20,"change":0.06},{"year":1996.25,"change":0.03},{"year":1996.30,"change":-0.04},{"year":1996.35,"change":0.08},{"year":1996.40,"change":-0.06},{"year":1996.45,"change":0.05},{"year":1996.50,"change":-0.08},{"year":1996.55,"change":0.06},{"year":1996.60,"change":-0.04},{"year":1996.65,"change":0.05},{"year":1996.70,"change":-0.10},{"year":1996.75,"change":0.04},{"year":1996.80,"change":-0.05},{"year":1996.85,"change":0.06},{"year":1996.90,"change":-0.08},{"year":1996.95,"change":0.05},
{"year":1997.00,"change":-0.04},{"year":1997.05,"change":0.06},{"year":1997.10,"change":-0.08},{"year":1997.15,"change":0.05},{"year":1997.20,"change":0.10},{"year":1997.25,"change":-0.05},{"year":1997.30,"change":0.04},{"year":1997.35,"change":-0.10},{"year":1997.40,"change":0.06},{"year":1997.45,"change":-0.05},{"year":1997.50,"change":0.04},{"year":1997.55,"change":-0.12},{"year":1997.60,"change":0.08},{"year":1997.65,"change":-0.04},{"year":1997.70,"change":0.05},{"year":1997.75,"change":-0.06},{"year":1997.80,"change":0.08},{"year":1997.85,"change":-0.05},{"year":1997.90,"change":0.04},{"year":1997.95,"change":0.10},
{"year":1998.00,"change":-0.08},{"year":1998.05,"change":0.05},{"year":1998.10,"change":-0.04},{"year":1998.15,"change":0.06},{"year":1998.20,"change":-0.05},{"year":1998.25,"change":0.04},{"year":1998.30,"change":-0.06},{"year":1998.35,"change":0.05},{"year":1998.40,"change":-0.03},{"year":1998.45,"change":0.06},{"year":1998.50,"change":-0.08},{"year":1998.55,"change":0.04},{"year":1998.60,"change":-0.10},{"year":1998.65,"change":-0.12},{"year":1998.70,"change":0.05},{"year":1998.76,"change":-0.32},{"year":1998.81,"change":0.33},{"year":1998.85,"change":-0.08},{"year":1998.90,"change":0.10},{"year":1998.95,"change":-0.06},
{"year":1999.00,"change":0.05},{"year":1999.05,"change":-0.06},{"year":1999.10,"change":0.08},{"year":1999.15,"change":-0.04},{"year":1999.20,"change":0.06},{"year":1999.25,"change":-0.05},{"year":1999.30,"change":0.04},{"year":1999.35,"change":-0.08},{"year":1999.40,"change":0.10},{"year":1999.45,"change":0.05},{"year":1999.50,"change":-0.06},{"year":1999.55,"change":0.08},{"year":1999.60,"change":-0.10},{"year":1999.65,"change":0.06},{"year":1999.70,"change":-0.05},{"year":1999.75,"change":0.10},{"year":1999.80,"change":0.04},{"year":1999.85,"change":-0.06},{"year":1999.90,"change":0.08},{"year":1999.95,"change":-0.15},
{"year":2000.00,"change":0.10},{"year":2000.05,"change":-0.05},{"year":2000.10,"change":0.12},{"year":2000.15,"change":0.06},{"year":2000.20,"change":-0.08},{"year":2000.25,"change":0.10},{"year":2000.30,"change":0.05},{"year":2000.35,"change":-0.06},{"year":2000.40,"change":0.15},{"year":2000.45,"change":0.04},{"year":2000.50,"change":0.15},{"year":2000.55,"change":-0.10},{"year":2000.60,"change":0.08},{"year":2000.65,"change":-0.05},{"year":2000.70,"change":0.06},{"year":2000.75,"change":-0.08},{"year":2000.80,"change":0.05},{"year":2000.85,"change":-0.10},{"year":2000.90,"change":0.04},{"year":2000.95,"change":-0.35},
{"year":2001.00,"change":-0.25},{"year":2001.05,"change":0.05},{"year":2001.10,"change":-0.15},{"year":2001.15,"change":-0.20},{"year":2001.20,"change":-0.12},{"year":2001.25,"change":-0.15},{"year":2001.30,"change":0.06},{"year":2001.35,"change":-0.10},{"year":2001.40,"change":0.08},{"year":2001.45,"change":-0.05},{"year":2001.50,"change":0.06},{"year":2001.55,"change":-0.08},{"year":2001.60,"change":0.05},{"year":2001.65,"change":-0.10},{"year":2001.71,"change":-0.50},{"year":2001.75,"change":0.08},{"year":2001.80,"change":-0.12},{"year":2001.85,"change":0.05},{"year":2001.90,"change":-0.08},{"year":2001.95,"change":0.06},
{"year":2002.00,"change":-0.05},{"year":2002.05,"change":0.06},{"year":2002.10,"change":-0.04},{"year":2002.15,"change":0.05},{"year":2002.20,"change":-0.06},{"year":2002.25,"change":0.04},{"year":2002.30,"change":-0.05},{"year":2002.35,"change":0.06},{"year":2002.40,"change":-0.03},{"year":2002.45,"change":0.05},{"year":2002.50,"change":-0.08},{"year":2002.55,"change":0.06},{"year":2002.60,"change":-0.15},{"year":2002.65,"change":0.04},{"year":2002.70,"change":-0.05},{"year":2002.75,"change":0.06},{"year":2002.80,"change":-0.08},{"year":2002.85,"change":-0.10},{"year":2002.90,"change":0.05},{"year":2002.95,"change":-0.04},
{"year":2003.00,"change":0.05},{"year":2003.05,"change":-0.06},{"year":2003.10,"change":0.04},{"year":2003.15,"change":-0.05},{"year":2003.20,"change":0.06},{"year":2003.25,"change":-0.04},{"year":2003.30,"change":0.05},{"year":2003.35,"change":-0.06},{"year":2003.40,"change":-0.18},{"year":2003.45,"change":0.04},{"year":2003.50,"change":-0.05},{"year":2003.55,"change":0.03},{"year":2003.60,"change":-0.04},{"year":2003.65,"change":0.05},{"year":2003.70,"change":-0.03},{"year":2003.75,"change":0.04},{"year":2003.80,"change":-0.03},{"year":2003.85,"change":0.02},{"year":2003.90,"change":-0.04},{"year":2003.95,"change":0.03},
{"year":2004.00,"change":-0.02},{"year":2004.05,"change":0.03},{"year":2004.10,"change":-0.03},{"year":2004.15,"change":0.02},{"year":2004.20,"change":0.04},{"year":2004.25,"change":-0.02},{"year":2004.30,"change":0.06},{"year":2004.35,"change":0.03},{"year":2004.40,"change":0.08},{"year":2004.45,"change":-0.03},{"year":2004.50,"change":0.06},{"year":2004.55,"change":0.04},{"year":2004.60,"change":-0.02},{"year":2004.65,"change":0.07},{"year":2004.70,"change":0.03},{"year":2004.75,"change":0.06},{"year":2004.80,"change":-0.03},{"year":2004.85,"change":0.08},{"year":2004.90,"change":0.04},{"year":2004.95,"change":0.06},
{"year":2005.00,"change":-0.03},{"year":2005.05,"change":0.08},{"year":2005.10,"change":0.05},{"year":2005.15,"change":-0.04},{"year":2005.20,"change":0.10},{"year":2005.25,"change":0.03},{"year":2005.30,"change":0.06},{"year":2005.35,"change":-0.05},{"year":2005.40,"change":0.08},{"year":2005.45,"change":0.04},{"year":2005.50,"change":0.10},{"year":2005.55,"change":-0.06},{"year":2005.60,"change":0.07},{"year":2005.65,"change":0.05},{"year":2005.70,"change":-0.04},{"year":2005.75,"change":0.09},{"year":2005.80,"change":0.06},{"year":2005.85,"change":-0.03},{"year":2005.90,"change":0.08},{"year":2005.95,"change":0.04},
{"year":2006.00,"change":0.20},{"year":2006.05,"change":0.06},{"year":2006.10,"change":-0.04},{"year":2006.15,"change":0.10},{"year":2006.20,"change":0.05},{"year":2006.25,"change":-0.06},{"year":2006.30,"change":0.08},{"year":2006.35,"change":0.04},{"year":2006.40,"change":-0.05},{"year":2006.45,"change":0.06},{"year":2006.50,"change":0.03},{"year":2006.55,"change":-0.04},{"year":2006.60,"change":0.05},{"year":2006.65,"change":-0.10},{"year":2006.70,"change":0.04},{"year":2006.75,"change":-0.05},{"year":2006.80,"change":0.06},{"year":2006.85,"change":-0.03},{"year":2006.90,"change":0.04},{"year":2006.95,"change":-0.05},
{"year":2007.00,"change":0.05},{"year":2007.05,"change":-0.04},{"year":2007.10,"change":0.06},{"year":2007.15,"change":-0.03},{"year":2007.20,"change":0.04},{"year":2007.25,"change":-0.06},{"year":2007.30,"change":0.03},{"year":2007.35,"change":-0.10},{"year":2007.40,"change":0.05},{"year":2007.45,"change":-0.08},{"year":2007.50,"change":0.15},{"year":2007.55,"change":-0.15},{"year":2007.58,"change":0.20},{"year":2007.63,"change":-0.57},{"year":2007.68,"change":0.43},{"year":2007.72,"change":-0.20},{"year":2007.76,"change":0.15},{"year":2007.80,"change":-0.40},{"year":2007.85,"change":0.10},{"year":2007.89,"change":-0.30},{"year":2007.94,"change":0.15},
{"year":2008.00,"change":-0.20},{"year":2008.04,"change":0.10},{"year":2008.07,"change":-0.74},{"year":2008.11,"change":-0.10},{"year":2008.15,"change":-0.45},{"year":2008.19,"change":-0.25},{"year":2008.22,"change":0.47},{"year":2008.25,"change":0.25},{"year":2008.30,"change":-0.20},{"year":2008.35,"change":0.20},{"year":2008.40,"change":-0.10},{"year":2008.45,"change":0.10},{"year":2008.50,"change":-0.25},{"year":2008.55,"change":0.15},{"year":2008.60,"change":0.20},{"year":2008.65,"change":-0.15},{"year":2008.70,"change":-0.55},{"year":2008.72,"change":-0.96},{"year":2008.76,"change":0.25},{"year":2008.81,"change":0.58},{"year":2008.85,"change":-0.40},{"year":2008.90,"change":-0.05},{"year":2008.95,"change":0.08},
{"year":2009.00,"change":-0.08},{"year":2009.05,"change":0.07},{"year":2009.10,"change":-0.05},{"year":2009.15,"change":0.06},{"year":2009.20,"change":-0.07},{"year":2009.25,"change":0.05},{"year":2009.30,"change":0.07}
      ]},
      "mark": {"type": "line", "color": "black", "strokeWidth": 1.2},
      "encoding": {
        "x": {"field": "year", "type": "quantitative", "scale": {"domain": [1971.09, 2010.93], "nice": false, "zero": false},
          "axis": {"values": [1973,1974,1975,1976,1977,1978,1979,1980,1981,1982,1983,1984,1985,1986,1987,1988,1989,1990,1991,1992,1993,1994,1995,1996,1997,1998,1999,2000,2001,2002,2003,2004,2005,2006,2007,2008,2009],
            "tickCount": 60,
            "format": "d", "labelExpr": "datum.value % 2 == 1 ? datum.label : ''", "labelOffset": 16, "labelAlign": "center", "labelFlush": false, "labelOverlap": false, "labelPadding": 6,
            "tickSize": {"condition": {"test": "datum.value % 2 == 1", "value": 9}, "value": 5},
            "tickOpacity": {"condition": {"test": "datum.value < 1973.5", "value": 0}, "value": 1},
            "title": null}},
        "y": {"field": "change", "type": "quantitative", "scale": {"domain": [-2, 2], "nice": false, "zero": false}, "title": "% per annum",
          "axis": {"values": [-2, -1.5, -1, -0.5, 0, 0.5, 1, 1.5, 2], "tickCount": 20, "format": ".1f", "tickSize": 9, "labelPadding": 10, "labelOverlap": false, "titleFontSize": 26, "titleFontWeight": "bold", "titlePadding": 9, "titleY": 160}}
      }
    },
    {
      "data": {"values": [{"level": 0}, {"level": 2}]},
      "mark": {"type": "rule", "color": "#222", "strokeWidth": 1.3},
      "encoding": {"y": {"field": "level", "type": "quantitative", "title": "% per annum"}}
    }
  ]
}
]
}
